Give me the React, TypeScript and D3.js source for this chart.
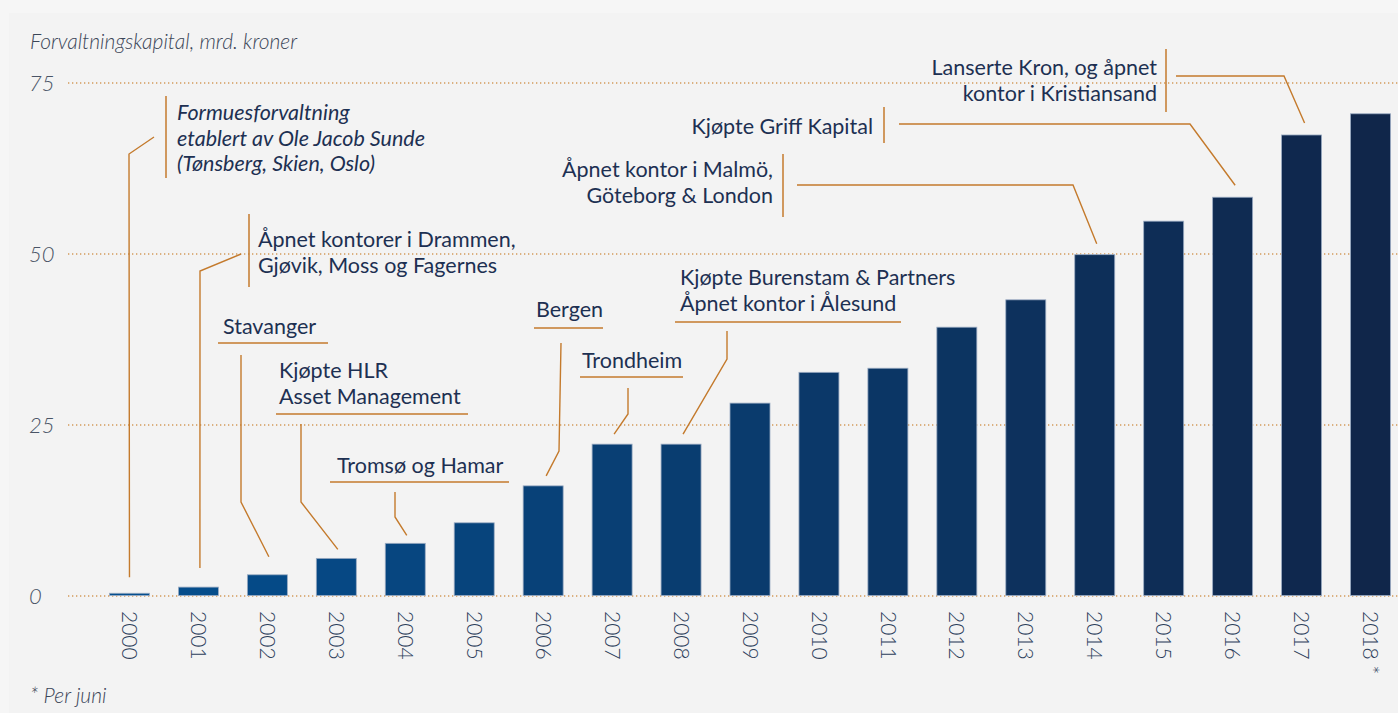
import React from 'react'
import * as d3 from 'd3'

// forvaltningskapital per år, mrd. kroner
const years = ['2000', '2001', '2002', '2003', '2004', '2005', '2006', '2007', '2008', '2009',
  '2010', '2011', '2012', '2013', '2014', '2015', '2016', '2017', '2018']
const yearSuffix = ['', '', '', '', '', '', '', '', '', '', '', '', '', '', '', '', '', '', ' *']
const capital = [0.4, 1.3, 3.1, 5.5, 7.7, 10.7, 16.1, 22.2, 22.2, 28.2,
  32.7, 33.3, 39.3, 43.3, 49.9, 54.8, 58.3, 67.4, 70.5]
const yTicks = [0, 25, 50, 75]

const noteYears = ['2000', '2001', '2002', '2003', '2004', '2006', '2007', '2008', '2014', '2016', '2017']
const noteTexts = [
  ['Formuesforvaltning', 'etablert av Ole Jacob Sunde', '(Tønsberg, Skien, Oslo)'],
  ['Åpnet kontorer i Drammen,', 'Gjøvik, Moss og Fagernes'],
  ['Stavanger'],
  ['Kjøpte HLR', 'Asset Management'],
  ['Tromsø og Hamar'],
  ['Bergen'],
  ['Trondheim'],
  ['Kjøpte Burenstam & Partners', 'Åpnet kontor i Ålesund'],
  ['Åpnet kontor i Malmö,', 'Göteborg & London'],
  ['Kjøpte Griff Kapital'],
  ['Lanserte Kron, og åpnet', 'kontor i Kristiansand'],
]

const W = 1398
const H = 713
const ORANGE = '#c47a2c'
const GRID = '#d39a5a'
const NAVY = '#1d3052'
const FONT = "Lato, 'Open Sans', sans-serif"

// placement of each note: text position, decoration and leader bend points
type Layout = {
  x: number; y: number; anchor: 'start' | 'end'; italic?: boolean
  deco: 'bar' | 'under'; d1: number; d2: number; d3: number
  bends: [number, number][]; dx: number; gap: number
}
const layouts: Layout[] = [
  { x: 177, y: 120, anchor: 'start', italic: true, deco: 'bar', d1: 166, d2: 96, d3: 178, bends: [[154, 137], [129, 154]], dx: 0, gap: 16 },
  { x: 258, y: 247, anchor: 'start', deco: 'bar', d1: 249, d2: 214, d3: 287, bends: [[241, 254], [200, 271]], dx: 1.5, gap: 19 },
  { x: 223, y: 334, anchor: 'start', deco: 'under', d1: 343, d2: 218, d3: 328, bends: [[241, 355], [241, 502]], dx: 1.5, gap: 18 },
  { x: 279, y: 378, anchor: 'start', deco: 'under', d1: 414, d2: 276, d3: 468, bends: [[301, 424], [301, 502]], dx: 1.5, gap: 9 },
  { x: 337, y: 473, anchor: 'start', deco: 'under', d1: 482, d2: 330, d3: 509, bends: [[395, 492], [395, 517]], dx: 1.5, gap: 8 },
  { x: 536, y: 317, anchor: 'start', deco: 'under', d1: 328, d2: 534, d3: 603, bends: [[561, 343], [559, 451]], dx: 3, gap: 10 },
  { x: 582, y: 368, anchor: 'start', deco: 'under', d1: 377, d2: 580, d3: 683, bends: [[628, 388], [628, 414]], dx: 2, gap: 10 },
  { x: 680, y: 285, anchor: 'start', deco: 'under', d1: 322, d2: 675, d3: 901, bends: [[727, 331], [727, 359]], dx: 2, gap: 10 },
  { x: 773, y: 177, anchor: 'end', deco: 'bar', d1: 783, d2: 154, d3: 217, bends: [[797, 185], [1073, 185]], dx: 2, gap: 11 },
  { x: 873, y: 134, anchor: 'end', deco: 'bar', d1: 884, d2: 107, d3: 143, bends: [[899, 124], [1190, 124]], dx: 2.5, gap: 12 },
  { x: 1157, y: 75, anchor: 'end', deco: 'bar', d1: 1166, d2: 49, d3: 112, bends: [[1176, 76], [1284, 76]], dx: 3, gap: 12 },
]

export default function App() {
  const x = d3.scaleBand<string>().domain(years).range([95, 1405]).paddingInner(0.42).paddingOuter(0.21)
  const y = d3.scaleLinear().domain([0, 75]).range([596, 83])
  const color = d3.interpolateRgb('#044f8f', '#10264a')
  const line = d3.line()
  const bw = x.bandwidth()

  return (
    <div style={{ position: 'absolute', left: 0, top: 0, width: W, height: H }}>
      <svg width={W} height={H} style={{ display: 'block', fontFamily: FONT }}>
        <rect width={W} height={H} fill="#f6f6f6" />
        <rect x={9} y={13} width={W - 9} height={H - 13} fill="#f3f3f3" />

        <text x={30} y={49} fontSize={21} fontStyle="italic" fontWeight={300} fill="#3b4658">
          Forvaltningskapital, mrd. kroner
        </text>

        {yTicks.map(t => (
          <g key={t}>
            <line x1={68} x2={W} y1={y(t)} y2={y(t)} stroke={GRID} strokeWidth={1.3} strokeDasharray="1.3 2.7" />
            <text x={29} y={y(t)} dy="0.36em" fontSize={22} fontStyle="italic" fontWeight={300} fill="#4a5466">{t}</text>
          </g>
        ))}

        {years.map((yr, i) => (
          <rect key={yr} x={x(yr)} y={y(capital[i])} width={bw} height={y(0) - y(capital[i]) - 0.5}
            fill={color(i / (years.length - 1))} stroke="#9aabc2" strokeWidth={0.8} />
        ))}

        {years.map((yr, i) => {
          const cx = (x(yr) as number) + bw / 2
          return (
            <text key={yr} transform={`translate(${cx},611) rotate(90)`} dy="0.35em" fontSize={21}
              fontWeight={300} fill="#2e3f5c">{yr + yearSuffix[i]}</text>
          )
        })}

        {noteYears.map((yr, k) => {
          const L = layouts[k]
          const i = years.indexOf(yr)
          const end: [number, number] = [(x(yr) as number) + bw / 2 + L.dx, y(capital[i]) - L.gap]
          return (
            <g key={yr}>
              <path d={line([...L.bends, end]) as string} fill="none" stroke={ORANGE} strokeWidth={1.4} />
              {L.deco === 'bar'
                ? <line x1={L.d1} x2={L.d1} y1={L.d2} y2={L.d3} stroke={ORANGE} strokeWidth={1.5} />
                : <line x1={L.d2} x2={L.d3} y1={L.d1} y2={L.d1} stroke={ORANGE} strokeWidth={1.5} />}
              <text x={L.x} y={L.y} textAnchor={L.anchor} fontSize={21.5} fill={NAVY}
                fontStyle={L.italic ? 'italic' : 'normal'}>
                {noteTexts[k].map((s, j) => (
                  <tspan key={j} x={L.x} dy={j === 0 ? 0 : 25.5}>{s}</tspan>
                ))}
              </text>
            </g>
          )
        })}

        <text x={30} y={703} fontSize={21} fontStyle="italic" fontWeight={300} fill="#3b4658">* Per juni</text>
      </svg>
    </div>
  )
}
